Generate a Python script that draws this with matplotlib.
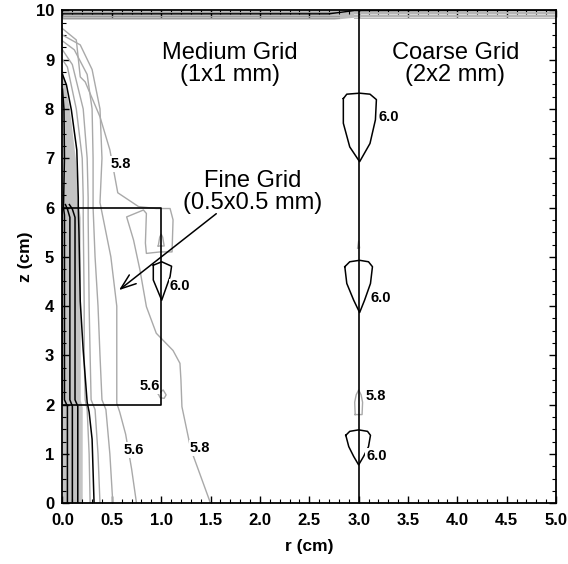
import matplotlib
matplotlib.use("Agg")
import matplotlib.pyplot as plt
from matplotlib.ticker import MultipleLocator

plt.rcParams['font.family'] = ['Liberation Sans', 'DejaVu Sans']

# ---------------- data (r, z) in cm ----------------
# grid boundaries
fine_box_r = [0.0, 1.0, 1.0, 0.0, 0.0]
fine_box_z = [2.0, 2.0, 6.0, 6.0, 2.0]
coarse_line_r = [3.0, 3.0]
coarse_line_z = [0.0, 10.0]

# dense shaded zone near the axis
shade_r = [0.20, 0.20, 0.18, 0.18, 0.16, 0.13, 0.07, 0.0]
shade_z = [0.0, 1.95, 2.1, 5.8, 6.1, 7.0, 8.0, 8.8]

# black contour lines near the axis
black1_r = [0.05, 0.05, 0.02, 0.02, 0.01, 0.02, 0.015, 0.0]
black1_z = [0.0, 1.97, 2.1, 5.85, 6.0, 7.0, 8.0, 8.4]
black2_r = [0.10, 0.10, 0.075, 0.075, 0.05, 0.03]
black2_z = [0.0, 1.97, 2.1, 5.8, 5.97, 6.06]
black3_r = [0.155, 0.155, 0.127, 0.127, 0.10, 0.07]
black3_z = [0.0, 1.97, 2.1, 5.8, 5.97, 6.06]
black4_r = [0.32, 0.30, 0.27, 0.25, 0.21, 0.18, 0.167, 0.16, 0.16, 0.145, 0.09, 0.04, 0.0]
black4_z = [0.0, 1.3, 1.85, 2.05, 3.1, 4.1, 5.5, 6.0, 6.2, 7.17, 7.98, 8.49, 8.7]

# grey contour lines near the axis
grey1_r = [0.28, 0.27, 0.25, 0.23, 0.22, 0.22, 0.21, 0.21, 0.20, 0.14, 0.05, 0.0]
grey1_z = [0.0, 1.0, 1.9, 2.1, 3.0, 4.0, 5.8, 6.2, 7.0, 8.0, 8.85, 9.0]
grey2_r = [0.38, 0.36, 0.33, 0.29, 0.28, 0.27, 0.26, 0.26, 0.25, 0.21, 0.10, 0.0]
grey2_z = [0.0, 1.0, 1.9, 2.1, 3.0, 4.0, 5.8, 6.2, 7.0, 8.0, 8.9, 9.2]
grey3_r = [0.51, 0.48, 0.44, 0.40, 0.38, 0.36, 0.33, 0.31, 0.31, 0.30, 0.25, 0.12, 0.0]
grey3_z = [0.0, 1.0, 1.9, 2.1, 3.0, 4.0, 5.0, 6.0, 7.0, 8.0, 8.7, 9.2, 9.38]

# 5.6 contour
c56_r = [0.75, 0.70, 0.64, 0.58, 0.55, 0.55, 0.55, 0.49, 0.42, 0.38, 0.40, 0.38, 0.30, 0.18, 0.0]
c56_z = [0.0, 0.7, 1.4, 1.85, 2.03, 2.7, 4.0, 5.0, 5.7, 6.1, 7.0, 8.0, 8.8, 9.3, 9.5]
# small 5.6 loop in the fine grid
c56b_r = [0.97, 0.99, 1.03, 1.05, 1.02, 0.97]
c56b_z = [2.22, 2.14, 2.13, 2.2, 2.3, 2.22]

# 5.8 contour
c58_r = [0.0, 0.14, 0.18, 0.23, 0.38, 0.48, 0.56, 0.77, 0.95, 1.09, 1.12, 1.11,
         0.99, 0.85, 0.84, 0.85, 0.82, 0.65, 0.72, 0.785, 0.85, 0.95, 1.12,
         1.19, 1.20, 1.21, 1.30, 1.50]
c58_z = [9.63, 9.40, 8.65, 8.55, 7.84, 7.17, 6.30, 6.02, 5.98, 5.98, 5.75, 5.10,
         5.10, 5.07, 5.28, 5.88, 5.95, 5.81, 5.34, 4.73, 3.99, 3.45, 3.10,
         2.84, 2.50, 1.96, 1.10, 0.0]
# small 5.8 islands
isl58a_r = [0.97, 0.985, 1.0, 1.015, 1.03, 0.97]
isl58a_z = [5.22, 5.40, 5.46, 5.40, 5.22, 5.22]
isl58b_r = [2.965, 2.96, 2.975, 3.0, 3.025, 3.04, 3.035, 2.965]
isl58b_z = [1.80, 2.05, 2.20, 2.30, 2.20, 2.05, 1.80, 1.80]
isl58c_r = [2.99, 3.0, 3.01, 2.99]
isl58c_z = [5.18, 5.32, 5.18, 5.18]

# 6.0 closed contours (teardrops)
t60a_r = [0.92, 1.005, 1.105, 1.09, 1.005, 0.92, 0.92]
t60a_z = [4.83, 4.90, 4.81, 4.60, 4.12, 4.53, 4.83]
t60b_r = [2.845, 2.88, 3.01, 3.115, 3.18, 3.17, 3.115, 3.01, 2.91, 2.845, 2.845]
t60b_z = [8.21, 8.30, 8.32, 8.30, 8.19, 7.78, 7.30, 6.93, 7.23, 7.71, 8.21]
t60c_r = [2.86, 2.91, 3.01, 3.10, 3.14, 3.12, 3.06, 3.01, 2.95, 2.88, 2.86]
t60c_z = [4.80, 4.90, 4.93, 4.90, 4.80, 4.46, 4.12, 3.87, 4.12, 4.46, 4.80]
t60d_r = [2.87, 2.91, 3.0, 3.09, 3.12, 3.10, 3.05, 3.0, 2.95, 2.90, 2.87]
t60d_z = [1.38, 1.46, 1.49, 1.46, 1.38, 1.15, 0.95, 0.78, 0.95, 1.15, 1.38]

# top boundary layer
top_left_r = [0.0, 2.75, 2.95]
top_left_lo = [9.82, 9.82, 9.86]
top_right_r = [2.95, 5.0]
top_right_lo = [9.84, 9.84]
top_black_r = [0.0, 2.70, 2.95, 5.0]
top_black_z = [9.93, 9.93, 9.995, 10.0]
top_grey_levels_left = [9.97, 9.88, 9.84]
top_grey_levels_right = [9.97, 9.94, 9.91, 9.88, 9.85]

# contour labels (text, r, z)
labels = [("5.8", 0.59, 6.88), ("5.6", 0.72, 1.08), ("5.8", 1.39, 1.12),
          ("5.6", 0.88, 2.38), ("6.0", 1.19, 4.40), ("6.0", 3.31, 7.84),
          ("6.0", 3.22, 4.16), ("5.8", 3.17, 2.18), ("6.0", 3.18, 0.96)]

# annotation texts
grid_notes = [("Medium Grid\n(1x1 mm)", 1.70, 8.92),
              ("Coarse Grid\n(2x2 mm)", 3.98, 8.92),
              ("Fine Grid\n(0.5x0.5 mm)", 1.93, 6.31)]
arrow_from = (1.58, 5.91)
arrow_to = (0.55, 4.29)

# ---------------- figure ----------------
fig = plt.figure(figsize=(5.68, 5.64), dpi=100)
ax = fig.add_axes([0.110, 0.1076, 0.869, 0.874])
ax.set_xlim(0, 5)
ax.set_ylim(0, 10)

GREY = '#a9a9a9'
SHADE = '#c4c4c4'

# top layer
ax.fill_between(top_left_r, top_left_lo, [10] * len(top_left_r), color='#bdbdbd', lw=0, zorder=1)
ax.fill_between(top_right_r, top_right_lo, [10] * len(top_right_r), color='#d9d9d9', lw=0, zorder=1)
for lv in top_grey_levels_left:
    ax.plot([0, 2.8], [lv, lv], color='#9a9a9a', lw=0.7, zorder=2)
for lv in top_grey_levels_right:
    ax.plot([2.95, 5.0], [lv, lv], color='#b5b5b5', lw=0.7, zorder=2)
ax.plot(top_black_r, top_black_z, color='black', lw=1.0, zorder=3)

# shaded dense zone
ax.fill_betweenx(shade_z, 0, shade_r, color=SHADE, lw=0, zorder=1)

for r, z in [(grey1_r, grey1_z), (grey2_r, grey2_z), (grey3_r, grey3_z),
             (c56_r, c56_z), (c56b_r, c56b_z), (c58_r, c58_z),
             (isl58a_r, isl58a_z), (isl58b_r, isl58b_z), (isl58c_r, isl58c_z)]:
    ax.plot(r, z, color=GREY, lw=1.0, zorder=2)

for r, z in [(black1_r, black1_z), (black2_r, black2_z), (black3_r, black3_z),
             (black4_r, black4_z), (t60a_r, t60a_z), (t60b_r, t60b_z),
             (t60c_r, t60c_z), (t60d_r, t60d_z)]:
    ax.plot(r, z, color='black', lw=1.1, zorder=3)

ax.plot(fine_box_r, fine_box_z, color='black', lw=1.2, zorder=4)
ax.plot(coarse_line_r, coarse_line_z, color='black', lw=1.2, zorder=4)

for txt, r, z in labels:
    ax.text(r, z, txt, ha='center', va='center', fontsize=10.5, fontweight='bold',
            zorder=5, bbox=dict(facecolor='white', edgecolor='none', pad=0.5))

for txt, r, z in grid_notes:
    ax.text(r, z, txt, ha='center', va='center', fontsize=17,
            linespacing=1.0, zorder=6)
ax.annotate("", xy=arrow_to, xytext=arrow_from,
            arrowprops=dict(arrowstyle='->,head_length=1.1,head_width=0.4',
                            color='black', lw=1.1), zorder=6)

ax.set_xlabel("r (cm)", fontsize=12.5, fontweight='bold', labelpad=8)
ax.set_ylabel("z (cm)", fontsize=12.5, fontweight='bold', labelpad=2)

ax.xaxis.set_major_locator(MultipleLocator(0.5))
ax.xaxis.set_minor_locator(MultipleLocator(0.1))
ax.yaxis.set_major_locator(MultipleLocator(1))
ax.yaxis.set_minor_locator(MultipleLocator(0.25))
ax.xaxis.set_major_formatter(plt.FuncFormatter(lambda v, p: f"{v:.1f}"))
ax.yaxis.set_major_formatter(plt.FuncFormatter(lambda v, p: f"{v:.0f}"))
ax.tick_params(which='both', direction='in', top=True, right=True, labelsize=12)
ax.tick_params(axis='x', which='major', pad=7)
ax.tick_params(axis='y', which='major', pad=6)
ax.tick_params(which='major', length=5, width=1)
ax.tick_params(which='minor', length=3, width=0.8)
for lab in ax.get_xticklabels() + ax.get_yticklabels():
    lab.set_fontweight('bold')
for sp in ax.spines.values():
    sp.set_linewidth(1.3)
    sp.set_zorder(7)

fig.savefig("out.png", dpi=100)
